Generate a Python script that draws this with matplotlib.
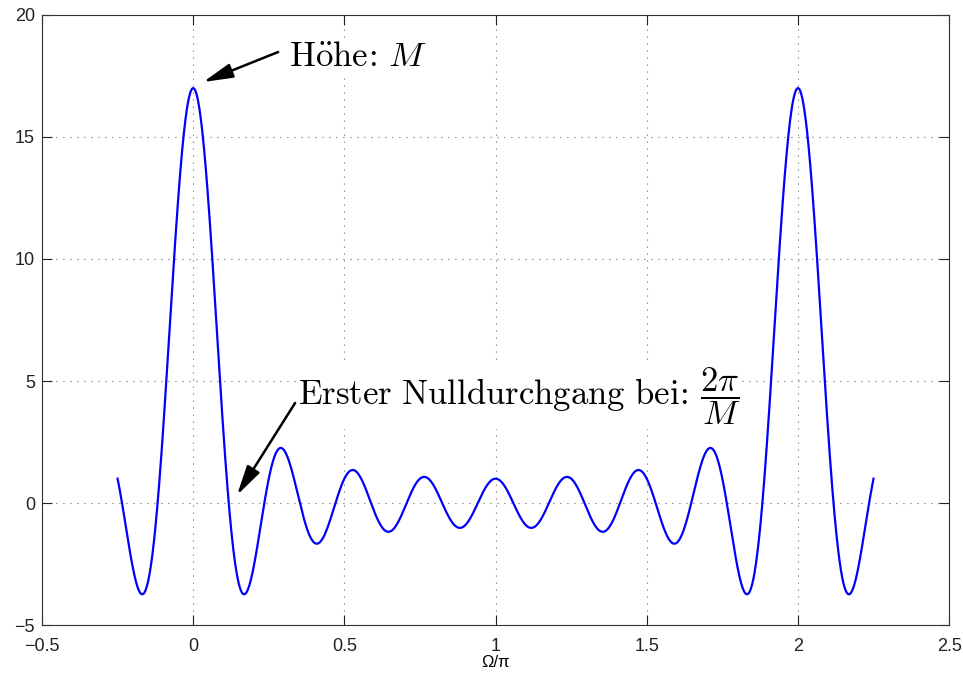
import numpy as np
import matplotlib
matplotlib.use("Agg")
import matplotlib.pyplot as plt
from matplotlib.ticker import FuncFormatter

# chart data: Dirichlet kernel of length M, plotted over Omega/pi
M = 17
omega_start, omega_end = -0.25, 2.25
xticks = [-0.5, 0, 0.5, 1, 1.5, 2, 2.5]
yticks = [-5, 0, 5, 10, 15, 20]

x = np.linspace(omega_start, omega_end, 4001)
num = np.sin(M * np.pi * x / 2)
den = np.sin(np.pi * x / 2)
small = np.abs(den) < 1e-9
y = np.where(small, M * np.cos(M * np.pi * x / 2) / np.cos(np.pi * x / 2),
             num / np.where(small, 1, den))

plt.rcParams['font.family'] = ['Liberation Sans', 'DejaVu Sans']
plt.rcParams['mathtext.fontset'] = 'cm'

fig = plt.figure(figsize=(9.63, 6.78), dpi=100)
ax = fig.add_axes([0.0436, 0.078, 0.942, 0.9])

ax.plot(x, y, color=(0, 0, 1), lw=1.6)

ax.set_xlim(-0.5, 2.5)
ax.set_ylim(-5, 20)
ax.set_xticks(xticks)
ax.set_yticks(yticks)
fmt = FuncFormatter(lambda v, p: ('%g' % v).replace('-', '\u2212'))
ax.xaxis.set_major_formatter(fmt)
ax.yaxis.set_major_formatter(fmt)
ax.tick_params(direction='in', length=7, width=0.8, top=True, right=True,
               labelsize=13, colors='#222222')
ax.tick_params(axis='x', pad=9)
ax.tick_params(axis='y', pad=5)
for s in ax.spines.values():
    s.set_linewidth(0.8)
    s.set_color('#333333')
ax.grid(True, color='#444444', linestyle=(0, (0.8, 5.5)), linewidth=0.8)
ax.set_xlabel('\u03a9/\u03c0', fontsize=12, labelpad=0)

# annotations
arrow = dict(arrowstyle='-|>,head_length=0.9,head_width=0.22', lw=1.8,
             color='k', mutation_scale=20, shrinkA=0, shrinkB=0)
ax.annotate('', xy=(0.033, 17.25), xytext=(0.281, 18.48), arrowprops=arrow)
ax.text(0.318, 17.9, r'$\mathrm{H\ddot{o}he}\!:\,M$', fontsize=25,
        va='baseline', ha='left',
        bbox=dict(facecolor='white', edgecolor='none', pad=1))

ax.annotate('', xy=(0.145, 0.33), xytext=(0.337, 4.10), arrowprops=arrow)
ax.text(0.347, 4.02, r'$\mathrm{Erster\ Nulldurchgang\ bei}\!:\,\dfrac{2\pi}{M}$',
        fontsize=25, va='baseline', ha='left',
        bbox=dict(facecolor='white', edgecolor='none', pad=1))

fig.savefig('out.png', dpi=100)
